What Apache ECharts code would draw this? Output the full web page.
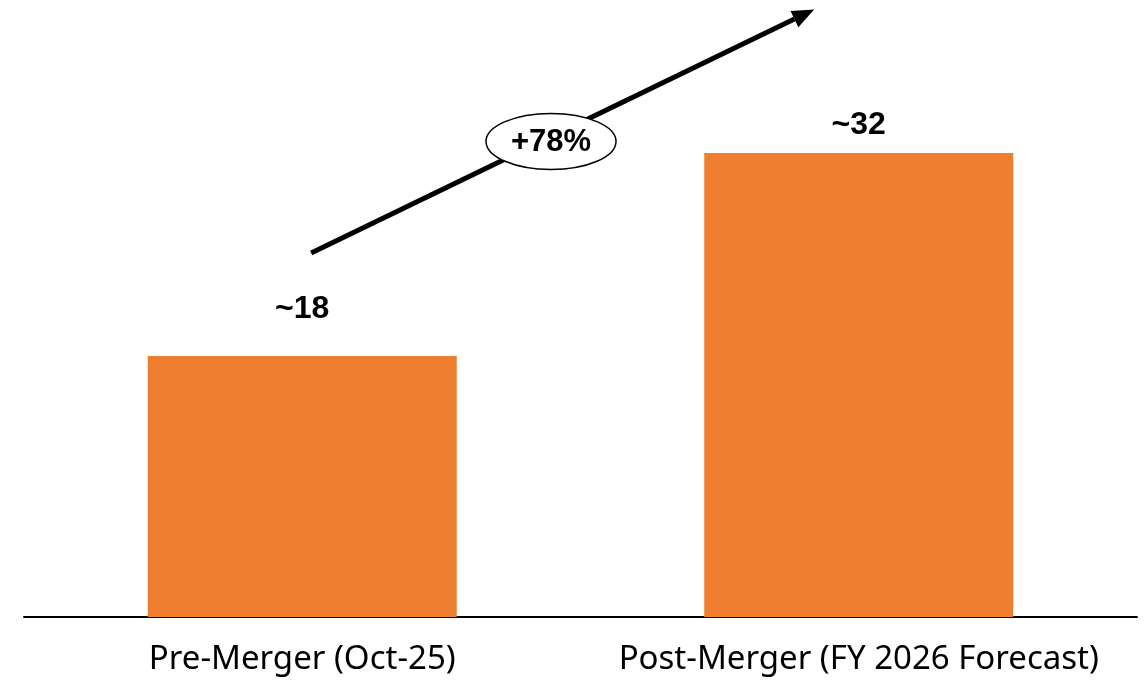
<!DOCTYPE html>
<html><head><meta charset="utf-8">
<script src="https://cdn.jsdelivr.net/npm/echarts@6/dist/echarts.min.js"></script>
<style>html,body{margin:0;padding:0;background:#fff}#c{width:1145px;height:681px}</style>
</head><body><div id="c"></div>
<script>
const categories = ['Pre-Merger (Oct-25)', 'Post-Merger (FY 2026 Forecast)'];
const values = [18, 32];
const valueLabels = ['~18', '~32'];
const labelGaps = [31, 12];
const growthLabel = '+78%';
// arrow annotation anchored in data space: [fraction between categories, value]
const arrowStart = [0.016, 25.1];
const arrowEnd = [0.92, 41.9];
const badgeAt = [0.447, 32.8];

const chart = echarts.init(document.getElementById('c'));
chart.setOption({
  animation: false,
  grid: {left: 24, right: 8, top: 8, bottom: 64},
  xAxis: {
    type: 'category', data: categories,
    axisLine: {lineStyle: {color: '#000', width: 2}},
    axisTick: {show: false},
    axisLabel: {interval: 0, hideOverlap: false, color: '#000', fontSize: 33, fontFamily: 'Noto Sans', margin: 26}
  },
  yAxis: {type: 'value', min: 0, max: 42, show: false, splitLine: {show: false}},
  series: [{
    type: 'bar',
    data: values.map((v, i) => ({value: v, label: {distance: labelGaps[i]}})),
    barWidth: 309,
    itemStyle: {color: '#F07E31'},
    label: {show: true, position: 'top',
      formatter: p => valueLabels[p.dataIndex],
      color: '#000', fontSize: 32, fontWeight: 'bold', fontFamily: 'Liberation Sans'}
  }]
});

function toPx(pt) {
  const a = chart.convertToPixel({gridIndex: 0}, [0, pt[1]]);
  const b = chart.convertToPixel({gridIndex: 0}, [1, pt[1]]);
  return [a[0] + pt[0] * (b[0] - a[0]), a[1]];
}
const s = toPx(arrowStart), e = toPx(arrowEnd), m = toPx(badgeAt);
const ang = Math.atan2(e[1] - s[1], e[0] - s[0]);
const hl = 22, hw = 9;
const base = [e[0] - hl * Math.cos(ang), e[1] - hl * Math.sin(ang)];
const p1 = [base[0] + hw * Math.sin(ang), base[1] - hw * Math.cos(ang)];
const p2 = [base[0] - hw * Math.sin(ang), base[1] + hw * Math.cos(ang)];
chart.setOption({
  graphic: [
    {type: 'line', shape: {x1: s[0], y1: s[1], x2: base[0], y2: base[1]}, style: {stroke: '#000', lineWidth: 5}, z: 10},
    {type: 'polygon', shape: {points: [e, p1, p2]}, style: {fill: '#000'}, z: 10},
    {type: 'ellipse', shape: {cx: m[0], cy: m[1], rx: 65, ry: 28}, style: {fill: '#fff', stroke: '#000', lineWidth: 1.5}, z: 11},
    {type: 'text', x: m[0], y: m[1] + 1, style: {text: growthLabel, fill: '#000', font: 'bold 31px "Liberation Sans"', align: 'center', verticalAlign: 'middle'}, z: 12}
  ]
});
</script></body></html>
